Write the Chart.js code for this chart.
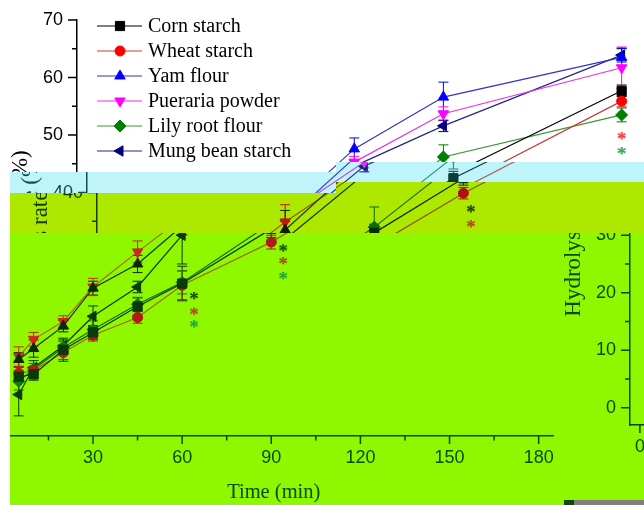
<!DOCTYPE html>
<html>
<head>
<meta charset="utf-8">
<script src="https://cdn.jsdelivr.net/npm/chart.js@4.4.1/dist/chart.umd.min.js"></script>
<style>
  html, body { margin: 0; padding: 0; background: #fff; }
  #stage { position: relative; width: 644px; height: 505px; overflow: hidden; background: #fff; }
  .frame { position: absolute; left: 0; top: 0; width: 644px; height: 505px; overflow: hidden; }
  .frame canvas { position: absolute; }
  #bar { position: absolute; left: 564px; top: 500px; width: 80px; height: 5px; background: #808080; border-left: 10px solid #0a4a0a; box-sizing: border-box; }
</style>
</head>
<body>
<div id="stage">
  <div class="frame" id="fT">
    <canvas id="cT" width="644" height="530" style="left:0;top:0"></canvas>
  </div>
  <div class="frame" id="fC" style="background:#bff5fa;clip-path:polygon(10px 172px,336px 172px,336px 162px,644px 162px,644px 182px,336px 182px,336px 193px,10px 193px)">
    <canvas id="cC" width="644" height="530" style="left:10px;top:0"></canvas>
  </div>
  <div class="frame" id="fY" style="background:#ade800;clip-path:polygon(10px 193px,336px 193px,336px 182px,644px 182px,644px 233px,10px 233px)">
    <canvas id="cY" width="644" height="530" style="left:20px;top:0"></canvas>
  </div>
  <div class="frame" id="fG" style="background:#8ff700;clip-path:polygon(10px 233px,644px 233px,644px 505px,10px 505px)">
    <canvas id="cG1" width="644" height="530" style="left:-83px;top:-4px"></canvas>
    <canvas id="cG2" width="644" height="530" style="left:553px;top:-15px"></canvas>
  </div>
  <div id="bar"></div>
</div>
<script>
// sampling times (min)
const times = [5, 10, 20, 30, 45, 60, 90, 120, 180];

// hydrolysis rate (%)
const cornStarch     = [7.3, 7.7, 12.0, 15.0, 19.5, 23.5, 33.0, 42.5, 57.7];
const wheatStarch    = [7.9, 8.4, 11.5, 14.5, 17.6, 23.2, 30.7, 39.9, 55.9];
const yamFlour       = [10.3, 12.2, 16.1, 22.7, 26.9, 33.5, 47.6, 56.6, 63.5];
const puerariaPowder = [10.8, 13.8, 16.9, 22.9, 29.0, 34.9, 45.3, 53.7, 61.7];
const lilyRootFlour  = [6.5, 8.6, 12.4, 15.5, 19.9, 23.7, 34.0, 46.2, 53.5];
const mungBeanStarch = [4.2, 8.9, 12.7, 17.8, 22.9, 31.9, 44.6, 51.6, 63.9];

// error bars (+/-)
const cornErr     = [1.0, 1.0, 2.0, 1.2, 1.5, 3.0, 1.5, 1.2, 1.0];
const wheatErr    = [1.0, 1.2, 1.2, 1.0, 1.0, 2.5, 1.2, 1.0, 1.0];
const yamErr      = [1.2, 1.5, 1.0, 1.2, 1.5, 1.5, 1.9, 2.6, 1.5];
const puerariaErr = [1.7, 1.2, 1.0, 1.5, 1.9, 3.0, 1.0, 1.2, 3.6];
const lilyErr     = [1.5, 1.0, 1.0, 1.5, 1.2, 2.0, 3.5, 2.1, 1.2];
const mungErr     = [3.7, 1.2, 1.0, 1.8, 1.0, 5.0, 1.0, 1.0, 1.2];

// significance asterisks
const starBlackX = [64, 94, 122.5];
const starBlackY = [21.5, 29.8, 37.3];
const starRedX   = [64, 94, 122.5, 180];
const starRedY   = [18.8, 27.6, 34.7, 50.0];
const starGreenX = [64, 94, 180];
const starGreenY = [16.6, 25.0, 47.4];

// axis ticks
const xTickValues = [0, 15, 30, 45, 60, 75, 90, 105, 120, 135, 150, 165, 180];
const yTickValues = [0, 5, 10, 15, 20, 25, 30, 35, 40, 45, 50, 55, 60, 65, 70];

const seriesNames  = ['Corn starch', 'Wheat starch', 'Yam flour', 'Pueraria powder', 'Lily root flour', 'Mung bean starch'];
const seriesValues = [cornStarch, wheatStarch, yamFlour, puerariaPowder, lilyRootFlour, mungBeanStarch];
const seriesErrors = [cornErr, wheatErr, yamErr, puerariaErr, lilyErr, mungErr];

const markers = [
  { style: 'rect', rot: 0, r: 6.5 },
  { style: 'circle', rot: 0, r: 5 },
  { style: 'triangle', rot: 0, r: 6 },
  { style: 'triangle', rot: 180, r: 6 },
  { style: 'rectRot', rot: 0, r: 6 },
  { style: 'triangle', rot: -90, r: 6 }
];

// colour sets for the plain part and the three tinted bands
const palettes = {
  T: { text: '#000000',
       marks: ['#000000', '#ff0000', '#0000ff', '#ff00ff', '#008000', '#000080'],
       lines: ['#000000', '#cc3a3a', '#3333cc', '#e633e6', '#339933', '#26268c'],
       stars: ['#000000', '#ff2020', '#20a040'] },
  C: { text: '#0c5050',
       marks: ['#0a3c3c', '#c04848', '#1a1ae6', '#d03ce6', '#1a8a6a', '#10207a'],
       lines: ['#0a3c3c', '#b05a5a', '#3a3ad0', '#c050e0', '#2a9a7a', '#2a3a9a'],
       stars: ['#0a3c3c', '#c04040', '#20a080'] },
  Y: { text: '#123c00',
       marks: ['#0c2c00', '#b01010', '#0c2000', '#c41414', '#0a6a0a', '#0c2c00'],
       lines: ['#0c2c00', '#8a5a00', '#1a3a00', '#9a5a00', '#1a6a1a', '#1a3a00'],
       stars: ['#0c2c00', '#b03a1a', '#12a040'] },
  G: { text: '#0a4a0a',
       marks: ['#0a3a0a', '#b41818', '#0a2a0a', '#d02424', '#127a12', '#0a3a0a'],
       lines: ['#0a3a0a', '#9a6a14', '#0a3a0a', '#a86a14', '#1a6a1a', '#0a3a0a'],
       stars: ['#0a3a0a', '#b03a1a', '#12a040'] }
};

// small '*' glyph used as a point style
function asteriskImage(color) {
  const c = document.createElement('canvas');
  c.width = 14; c.height = 14;
  const g = c.getContext('2d');
  g.fillStyle = color;
  g.font = 'bold 19px "Liberation Serif", "Times New Roman", serif';
  g.textAlign = 'center';
  g.textBaseline = 'alphabetic';
  g.fillText('*', 7, 17);
  return c;
}

const errBars = {
  id: 'errBars',
  beforeDatasetsDraw(chart) {
    const { ctx, scales: { x, y } } = chart;
    ctx.save();
    ctx.lineWidth = 1;
    chart.data.datasets.forEach(ds => {
      if (!ds.errors) return;
      ctx.strokeStyle = ds.pointBackgroundColor;
      ds.data.forEach((p, j) => {
        const px = x.getPixelForValue(p.x);
        const y1 = y.getPixelForValue(p.y + ds.errors[j]);
        const y2 = y.getPixelForValue(p.y - ds.errors[j]);
        ctx.beginPath();
        ctx.moveTo(px, y1); ctx.lineTo(px, y2);
        ctx.moveTo(px - 5, y1); ctx.lineTo(px + 5, y1);
        ctx.moveTo(px - 5, y2); ctx.lineTo(px + 5, y2);
        ctx.stroke();
      });
    });
    ctx.restore();
  }
};

const tickMarks = {
  id: 'tickMarks',
  afterDraw(chart, args, opts) {
    const { ctx, scales: { x, y }, chartArea: a } = chart;
    ctx.save();
    ctx.strokeStyle = opts.color;
    ctx.lineWidth = 1.5;
    ctx.beginPath();
    xTickValues.forEach(v => {
      const px = x.getPixelForValue(v);
      ctx.moveTo(px, a.bottom);
      ctx.lineTo(px, a.bottom + (v % 30 === 0 ? 8 : 4.5));
    });
    yTickValues.forEach(v => {
      const py = y.getPixelForValue(v);
      ctx.moveTo(a.left, py);
      ctx.lineTo(a.left - (v % 10 === 0 ? 9 : 5), py);
    });
    ctx.stroke();
    ctx.restore();
  }
};

// y axis title, drawn by hand so it can sit a little below the middle like the original
const yTitle = {
  id: 'yTitle',
  afterDraw(chart, args, opts) {
    const { ctx, chartArea: a } = chart;
    ctx.save();
    ctx.translate(a.left - 56, (a.top + a.bottom) / 2 + 11);
    ctx.rotate(-Math.PI / 2);
    ctx.font = '23px "Liberation Serif", "Times New Roman", serif';
    ctx.fillStyle = opts.color;
    ctx.textAlign = 'center';
    ctx.textBaseline = 'middle';
    ctx.fillText('Hydrolysis rate (%)', 0, 0);
    ctx.restore();
  }
};

function drawMarker(ctx, ds, x, y) {
  if (Chart.helpers && Chart.helpers.drawPoint) {
    Chart.helpers.drawPoint(ctx, { pointStyle: ds.pointStyle, rotation: ds.pointRotation, radius: ds.pointRadius, borderWidth: 1 }, x, y);
  } else {
    ctx.fillRect(x - 4, y - 4, 8, 8);
  }
}

const boxLegend = {
  id: 'boxLegend',
  afterDraw(chart, args, opts) {
    const { ctx, chartArea: a } = chart;
    ctx.save();
    ctx.font = '20px "Liberation Serif", "Times New Roman", serif';
    ctx.textBaseline = 'middle';
    seriesNames.forEach((name, i) => {
      const ds = chart.data.datasets[i];
      const yy = a.top + 6 + i * 25;
      const x0 = a.left + 20;
      ctx.strokeStyle = ds.borderColor;
      ctx.lineWidth = 1.2;
      ctx.beginPath();
      ctx.moveTo(x0, yy);
      ctx.lineTo(x0 + 45, yy);
      ctx.stroke();
      ctx.fillStyle = ds.pointBackgroundColor;
      ctx.strokeStyle = ds.pointBorderColor;
      ctx.lineWidth = 1;
      drawMarker(ctx, ds, x0 + 23, yy);
      ctx.fillStyle = opts.color;
      ctx.fillText(name, x0 + 51, yy + 1);
    });
    ctx.restore();
  }
};

function buildChart(id, pal) {
  const datasets = seriesNames.map((name, i) => ({
    label: name,
    data: times.map((t, j) => ({ x: t, y: seriesValues[i][j] })),
    errors: seriesErrors[i],
    showLine: true,
    borderColor: pal.lines[i],
    borderWidth: 1.2,
    pointBackgroundColor: pal.marks[i],
    pointBorderColor: pal.marks[i],
    pointBorderWidth: 1,
    pointStyle: markers[i].style,
    pointRotation: markers[i].rot,
    pointRadius: markers[i].r,
    tension: 0
  }));
  const starSets = [[starBlackX, starBlackY], [starRedX, starRedY], [starGreenX, starGreenY]];
  starSets.forEach(([xs, ys], k) => {
    datasets.push({
      label: '',
      data: xs.map((t, j) => ({ x: t, y: ys[j] })),
      showLine: false,
      pointStyle: asteriskImage(pal.stars[k]),
      pointRadius: 5
    });
  });

  const tickFont = { family: '"Liberation Sans", Arial, sans-serif', size: 18 };

  return new Chart(document.getElementById(id), {
    type: 'scatter',
    data: { datasets },
    plugins: [errBars, tickMarks, yTitle, boxLegend],
    options: {
      responsive: false,
      animation: false,
      events: [],
      layout: { padding: { top: 20, right: 2, left: 0, bottom: 0 } },
      plugins: {
        legend: { display: false },
        tooltip: { enabled: false },
        tickMarks: { color: pal.text },
        yTitle: { color: pal.text },
        boxLegend: { color: pal.text }
      },
      scales: {
        x: {
          type: 'linear', min: -3.33, max: 185,
          afterBuildTicks: s => { s.ticks = xTickValues.map(v => ({ value: v })); },
          afterFit: s => { s.height = 90; s.paddingLeft = 0; s.paddingRight = 0; },
          grid: { drawOnChartArea: false, drawTicks: false },
          border: { display: true, color: pal.text, width: 1.5 },
          ticks: { autoSkip: false, maxRotation: 0, padding: 11, color: pal.text, font: tickFont,
                   callback: v => (v % 30 === 0 ? v : '') },
          title: { display: true, text: 'Time (min)', color: pal.text,
                   font: { family: '"Liberation Serif", "Times New Roman", serif', size: 20.5 },
                   padding: { top: 0, bottom: 21 } }
        },
        y: {
          type: 'linear', min: -3, max: 70,
          afterBuildTicks: s => { s.ticks = yTickValues.map(v => ({ value: v })); },
          afterFit: s => { s.width = 77; s.paddingTop = 0; s.paddingBottom = 0; },
          grid: { drawOnChartArea: false, drawTicks: false },
          border: { display: true, color: pal.text, width: 1.5 },
          ticks: { autoSkip: false, padding: 14, color: pal.text, font: tickFont,
                   callback: v => (v % 10 === 0 ? v : '') },
          title: { display: false }
        }
      }
    }
  });
}

buildChart('cT', palettes.T);
buildChart('cC', palettes.C);
buildChart('cY', palettes.Y);
buildChart('cG1', palettes.G);
buildChart('cG2', palettes.G);
</script>
</body>
</html>
